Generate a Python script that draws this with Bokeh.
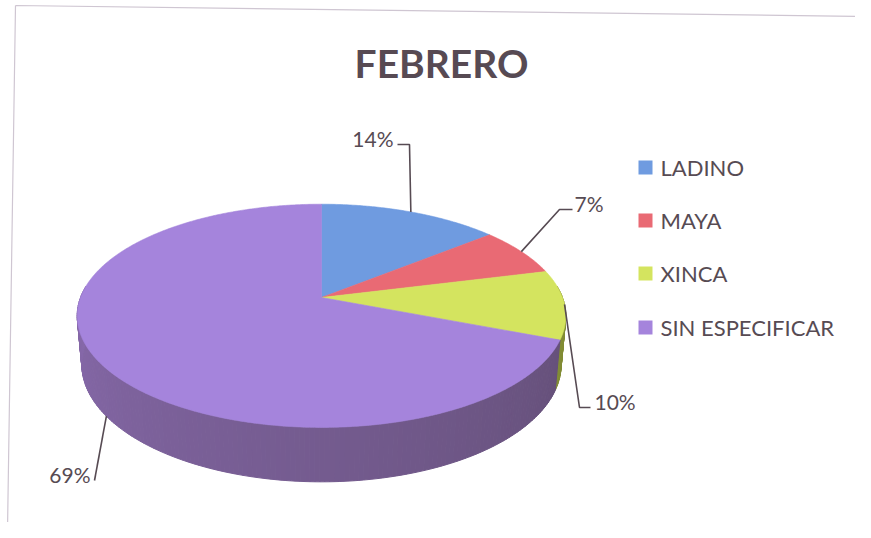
import numpy as np
from bokeh.plotting import figure
from bokeh.models import Range1d
from bokeh.core.properties import value
from bokeh.embed import file_html
from bokeh.resources import INLINE

# ---------------- data ----------------
title = "FEBRERO"
categories = ["LADINO", "MAYA", "XINCA", "SIN ESPECIFICAR"]
percent = [14, 7, 10, 69]

# ---------------- styles ----------------
top_colors = ["#6f9be0", "#e96a74", "#d4e45f", "#a584dc"]
side_light = [(90, 125, 185), (190, 80, 90), (165, 178, 70), (136, 106, 172)]
side_dark = [(60, 90, 140), (140, 60, 70), (125, 135, 50), (96, 76, 114)]
text_color = "#574b53"
FONT = "Lato"

# ---------------- 3D pie projection (page pixel space) ----------------
CX, CY, K = 321.0, 297.0, 241.0
SIN_T, COS_T = 0.4506, 0.8927
DIST, DEPTH = 5.44, 0.2276


def proj(theta_deg, yw):
    t = np.radians(theta_deg)
    X = np.sin(t)
    z = np.cos(t)
    Yv = yw * COS_T + z * SIN_T
    Zv = -yw * SIN_T + z * COS_T
    f = DIST / (DIST + Zv)
    return CX + K * X * f, CY - K * Yv * f


total = float(sum(percent))
bounds = np.concatenate([[0.0], np.cumsum(percent) / total * 360.0])

p = figure(width=855, height=522, output_backend="svg", toolbar_location=None,
           x_range=Range1d(0, 855), y_range=Range1d(522, 0), min_border=0)
p.axis.visible = False
p.grid.visible = False
p.outline_line_color = None
p.background_fill_color = "white"
p.border_fill_color = "white"

# faint scanned border
p.line([15, 863, 859, 7, 15], [5, 16, 541, 530, 5], line_color="#cfc6d2", line_width=1.2)

# side strips
sx, sy, sc = [], [], []
for i in range(len(percent)):
    a0, a1 = max(bounds[i], 84.0), min(bounds[i + 1], 276.0)
    if a1 <= a0:
        continue
    n = max(2, int(np.ceil((a1 - a0) / 1.0)))
    grid = np.linspace(a0, a1, n + 1)
    for ta, tb in zip(grid[:-1], grid[1:]):
        xa, ya = proj(ta, 0.0)
        xb, yb = proj(tb, 0.0)
        xc, yc = proj(tb, -DEPTH)
        xd, yd = proj(ta, -DEPTH)
        sx.append([xa, xb, xc, xd])
        sy.append([ya, yb, yc, yd])
        tm = 0.5 * (ta + tb)
        w = np.clip((276.0 - tm) / 192.0, 0, 1)
        col = tuple(int(round(side_light[i][k] * (1 - w) + side_dark[i][k] * w)) for k in range(3))
        sc.append("#%02x%02x%02x" % col)
p.patches(sx, sy, fill_color=sc, line_color=sc, line_width=1)

# top faces
for i in range(len(percent)):
    th = np.linspace(bounds[i], bounds[i + 1], max(3, int((bounds[i + 1] - bounds[i]) * 2)))
    rx, ry = proj(th, 0.0)
    xs = np.concatenate([[CX], rx])
    ys = np.concatenate([[CY], ry])
    p.patch(xs, ys, fill_color=top_colors[i], line_color=top_colors[i], line_width=0.6)

# leader lines + data labels
mid = [(bounds[i] + bounds[i + 1]) / 2 for i in range(len(percent))]
anchor_depth = [0.0, 0.0, 0.0, -DEPTH]
elbows = [[(409, 144), (397, 144)], [(559, 209), (572, 209)],
          [(579, 407), (590, 407)], [(94, 480)]]
label_pos = [(393, 138, "right"), (574, 203, "left"), (594, 401, "left"), (90, 474, "right")]
for i in range(len(percent)):
    ax, ay = proj(mid[i], anchor_depth[i])
    lx = [float(ax)] + [e[0] for e in elbows[i]]
    ly = [float(ay)] + [e[1] for e in elbows[i]]
    p.line(lx, ly, line_color=text_color, line_width=1.6)
p.text(x=[lp[0] for lp in label_pos], y=[lp[1] for lp in label_pos],
       text=[f"{v}%" for v in percent], text_align=[lp[2] for lp in label_pos],
       text_baseline="middle", text_font=value(FONT), text_font_size=value("21px"),
       text_color=text_color)

# title
p.text(x=[441], y=[62], text=[title], text_align="center", text_baseline="middle",
       text_font=value(FONT), text_font_style="bold", text_font_size=value("39px"),
       text_color="#574a53")

# legend
leg_y = [167, 220, 273, 327]
p.rect(x=[645] * 4, y=leg_y, width=14, height=14, fill_color=top_colors, line_color=None)
p.text(x=[660] * 4, y=leg_y, text=categories, text_align="left", text_baseline="middle",
       text_font=value(FONT), text_font_size=value("22px"), text_color=text_color)

open("out.html", "w").write(file_html(p, INLINE))
